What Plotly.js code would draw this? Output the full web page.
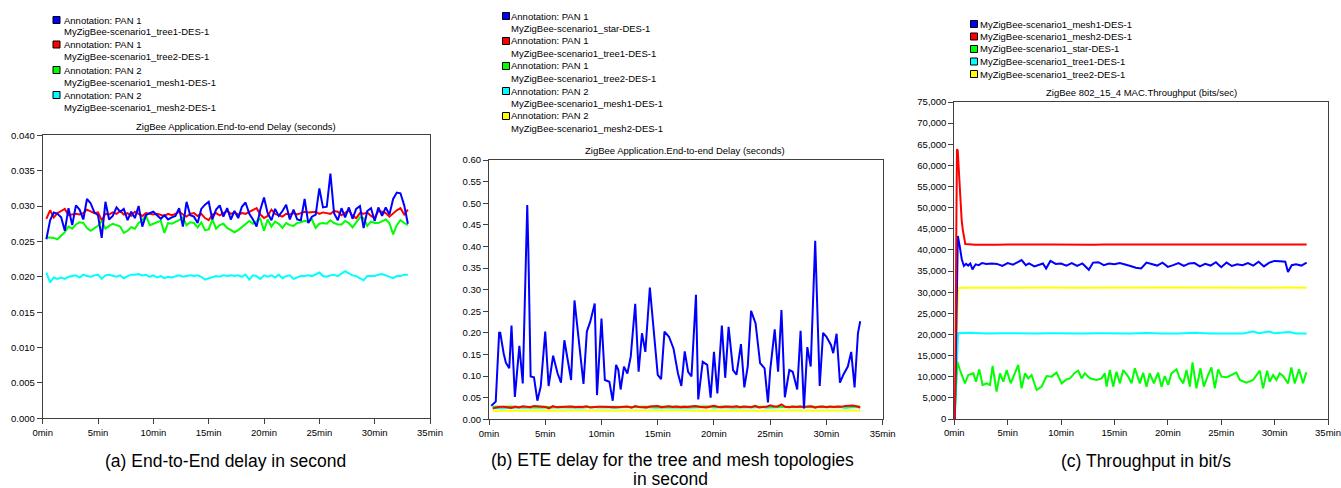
<!DOCTYPE html>
<html>
<head>
<meta charset="utf-8">
<script src="https://cdn.plot.ly/plotly-3.0.1.min.js"></script>
<style>html,body{margin:0;padding:0;background:#fff;}#chart{width:1341px;height:488px;}</style>
</head>
<body>
<div id="chart"></div>
<script>
// ---------- time axis ticks ----------
const xTickVals = [0, 5, 10, 15, 20, 25, 30, 35];
const xTickText = ['0min', '5min', '10min', '15min', '20min', '25min', '30min', '35min'];

// ---------- panels (a) and (b): delay series sampled every 20 s (minutes) ----------
const tDelay = [0.33,0.67,1,1.33,1.67,2,2.33,2.67,3,3.33,3.67,4,4.33,4.67,5,5.33,5.67,6,6.33,6.67,7,7.33,7.67,8,8.33,8.67,9,9.33,9.67,10,10.33,10.67,11,11.33,11.67,12,12.33,12.67,13,13.33,13.67,14,14.33,14.67,15,15.33,15.67,16,16.33,16.67,17,17.33,17.67,18,18.33,18.67,19,19.33,19.67,20,20.33,20.67,21,21.33,21.67,22,22.33,22.67,23,23.33,23.67,24,24.33,24.67,25,25.33,25.67,26,26.33,26.67,27,27.33,27.67,28,28.33,28.67,29,29.33,29.67,30,30.33,30.67,31,31.33,31.67,32,32.33,32.67,33];

const delayTree1 = [0.0253,0.0280,0.0291,0.0289,0.0284,0.0265,0.0297,0.0273,0.0301,0.0295,
0.0281,0.0310,0.0304,0.0291,0.0287,0.0255,0.0306,0.0281,0.0286,0.0298,
0.0292,0.0296,0.0280,0.0292,0.0283,0.0300,0.0271,0.0287,0.0290,0.0292,
0.0287,0.0282,0.0287,0.0281,0.0284,0.0286,0.0297,0.0271,0.0306,0.0287,
0.0285,0.0276,0.0296,0.0302,0.0306,0.0281,0.0295,0.0301,0.0285,0.0297,
0.0281,0.0293,0.0283,0.0299,0.0305,0.0289,0.0281,0.0271,0.0295,0.0312,
0.0290,0.0280,0.0296,0.0286,0.0293,0.0302,0.0281,0.0295,0.0281,0.0280,
0.0310,0.0276,0.0285,0.0288,0.0325,0.0298,0.0299,0.0346,0.0290,0.0280,
0.0297,0.0284,0.0298,0.0282,0.0296,0.0300,0.0269,0.0293,0.0297,0.0279,
0.0298,0.0286,0.0298,0.0288,0.0310,0.0319,0.0318,0.0301,0.0275];

const delayTree2 = [0.0282,0.0294,0.0284,0.0290,0.0293,0.0296,0.0287,0.0288,0.0289,0.0288,
0.0290,0.0295,0.0292,0.0290,0.0291,0.0280,0.0289,0.0288,0.0291,0.0289,
0.0293,0.0288,0.0290,0.0286,0.0292,0.0289,0.0286,0.0290,0.0289,0.0288,
0.0289,0.0288,0.0286,0.0289,0.0287,0.0289,0.0292,0.0288,0.0285,0.0289,
0.0290,0.0286,0.0289,0.0283,0.0280,0.0288,0.0290,0.0287,0.0290,0.0293,
0.0289,0.0291,0.0288,0.0290,0.0289,0.0292,0.0294,0.0297,0.0288,0.0283,
0.0286,0.0295,0.0289,0.0287,0.0285,0.0289,0.0288,0.0290,0.0288,0.0290,
0.0292,0.0291,0.0292,0.0292,0.0289,0.0291,0.0290,0.0289,0.0293,0.0292,
0.0287,0.0290,0.0294,0.0286,0.0283,0.0290,0.0289,0.0291,0.0286,0.0283,
0.0293,0.0292,0.0290,0.0285,0.0290,0.0294,0.0297,0.0288,0.0295];

const delayMesh1 = [0.0256,0.0256,0.0255,0.0253,0.0258,0.0263,0.0271,0.0268,0.0274,0.0277,
0.0276,0.0269,0.0265,0.0268,0.0272,0.0279,0.0268,0.0272,0.0275,0.0273,
0.0271,0.0262,0.0265,0.0270,0.0268,0.0276,0.0280,0.0287,0.0273,0.0275,
0.0277,0.0279,0.0262,0.0276,0.0275,0.0277,0.0280,0.0284,0.0273,0.0277,
0.0276,0.0270,0.0277,0.0266,0.0267,0.0281,0.0268,0.0273,0.0275,0.0269,
0.0266,0.0263,0.0266,0.0270,0.0274,0.0279,0.0275,0.0279,0.0282,0.0265,
0.0281,0.0271,0.0278,0.0275,0.0269,0.0276,0.0273,0.0272,0.0276,0.0277,
0.0279,0.0278,0.0281,0.0269,0.0275,0.0276,0.0275,0.0280,0.0276,0.0274,
0.0274,0.0279,0.0276,0.0270,0.0277,0.0284,0.0283,0.0272,0.0278,0.0276,
0.0276,0.0279,0.0281,0.0276,0.0260,0.0273,0.0280,0.0276,0.0273];

const delayMesh2 = [0.0206,0.0192,0.0199,0.0197,0.0199,0.0197,0.0200,0.0201,0.0202,0.0199,
0.0203,0.0201,0.0200,0.0202,0.0203,0.0197,0.0202,0.0203,0.0201,0.0200,
0.0202,0.0198,0.0201,0.0203,0.0203,0.0204,0.0202,0.0203,0.0200,0.0202,
0.0199,0.0201,0.0198,0.0200,0.0199,0.0201,0.0202,0.0200,0.0201,0.0202,
0.0201,0.0202,0.0200,0.0196,0.0198,0.0199,0.0201,0.0200,0.0202,0.0201,
0.0202,0.0201,0.0202,0.0200,0.0203,0.0196,0.0202,0.0201,0.0197,0.0202,
0.0200,0.0202,0.0199,0.0203,0.0198,0.0201,0.0202,0.0197,0.0199,0.0201,
0.0201,0.0202,0.0201,0.0203,0.0206,0.0201,0.0200,0.0202,0.0203,0.0201,
0.0204,0.0208,0.0205,0.0202,0.0201,0.0198,0.0195,0.0201,0.0201,0.0201,
0.0203,0.0204,0.0202,0.0200,0.0198,0.0201,0.0201,0.0203,0.0203];

// star topology delay (panel b, blue)
const tStar = [0.2,0.6,0.9,1.0,1.3,1.5,1.8,2.0,2.3,2.7,3.0,3.4,3.5,3.7,4.0,4.3,4.6,5.0,5.3,5.7,6.1,6.4,6.7,7.0,7.3,7.6,8.0,8.4,8.7,9.0,9.4,9.6,10.0,10.3,10.7,11.0,11.3,11.5,11.7,12.0,12.3,12.6,13.0,13.3,13.6,13.9,14.3,14.6,15.0,15.3,15.6,16.0,16.4,16.8,17.1,17.4,17.7,18.0,18.4,18.6,19.0,19.4,19.7,20.0,20.3,20.7,21.0,21.3,21.7,22.0,22.4,22.7,23.0,23.3,23.7,24.1,24.5,24.8,25.0,25.4,25.7,26.0,26.3,26.7,27.0,27.4,27.7,28.0,28.3,28.6,29.0,29.4,29.7,30.0,30.4,30.6,30.9,31.2,31.5,31.9,32.2,32.5,32.8,33.0];
const delayStar = [0.031,0.041,0.200,0.200,0.153,0.131,0.118,0.217,0.052,0.170,
0.083,0.496,0.390,0.099,0.097,0.043,0.076,0.203,0.077,0.147,
0.106,0.085,0.183,0.137,0.091,0.275,0.184,0.082,0.203,0.226,
0.268,0.056,0.233,0.091,0.087,0.043,0.126,0.114,0.069,0.122,
0.106,0.145,0.267,0.110,0.199,0.156,0.305,0.214,0.103,0.093,
0.203,0.191,0.164,0.106,0.077,0.157,0.110,0.099,0.288,0.046,
0.133,0.126,0.050,0.156,0.060,0.217,0.096,0.214,0.114,0.103,
0.174,0.074,0.122,0.251,0.222,0.130,0.118,0.039,0.114,0.208,
0.110,0.253,0.051,0.114,0.110,0.069,0.205,0.025,0.167,0.122,
0.413,0.077,0.200,0.191,0.172,0.153,0.198,0.085,0.103,0.122,
0.156,0.074,0.199,0.227];

// ---------- panel (c): throughput (bits/sec) ----------
const tThrMesh1 = [0.05,0.2,0.33,0.5,0.7,0.9,1.1,1.3,1.5,1.7,2.0,2.3,2.6,3.0,3.5,4.0,4.5,5.0,5.5,6.0,6.3,6.7,7.0,7.5,8.0,8.3,8.6,9.0,9.5,10.0,10.5,11.0,11.5,12.0,12.6,13.0,13.5,14.0,14.5,15.0,15.5,16.0,16.5,17.0,17.5,18.0,18.5,19.0,19.5,20.0,20.5,21.0,21.5,22.0,22.5,23.0,23.5,24.0,24.5,25.0,25.5,26.0,26.5,27.0,27.5,28.0,28.5,29.0,29.5,30.0,30.5,31.0,31.25,31.6,32.0,32.5,33.0];
const thrMesh1 = [0,30000,43300,41000,37800,36200,36700,36300,36800,35400,
36600,36400,36900,36700,36800,36700,36200,36900,36500,37200,
37600,36400,36800,36100,36500,36800,35600,37400,36700,36800,
36300,36900,36200,36800,35300,37000,37100,36400,36800,36600,
36900,36600,36200,35800,35600,37000,36700,36300,37000,36000,
36400,36900,36200,36800,36900,36100,36700,36300,37100,35900,
37000,36200,36600,36400,36900,36300,37200,36100,37000,37400,
37300,37200,34800,36400,36600,36300,37000];

const tThrMesh2 = [0.05,0.25,0.32,0.45,0.55,0.69,0.80,1.03,2,3,4,5,6,7,8,9,10,11,12,13,14,15,16,17,18,19,20,21,22,23,24,25,26,27,28,29,30,31,32,33];
const thrMesh2 = [0,63800,63500,57000,52000,47000,44700,41400,
41200,41300,41250,41300,41350,41250,41300,41300,41250,41300,
41300,41250,41300,41300,41350,41300,41250,41300,41300,41300,
41250,41300,41300,41300,41250,41300,41300,41350,41250,41300,41300,41300];

const tThrStar = [0.05,0.28,0.53,1.00,1.31,1.78,2.03,2.34,2.65,3.03,3.34,3.59,3.96,4.28,4.59,4.90,5.28,5.68,5.99,6.30,6.62,6.93,7.24,7.71,8.18,8.64,9.11,9.58,10.05,10.52,10.83,11.30,11.61,11.92,12.23,12.70,13.32,13.79,14.10,14.26,14.57,14.88,15.19,15.51,15.82,16.29,16.60,16.91,17.38,17.69,18.00,18.31,18.69,19.09,19.41,19.72,20.03,20.34,20.81,21.12,21.44,21.75,22.06,22.31,22.68,23.06,23.37,23.77,24.08,24.40,24.71,25.02,25.49,25.96,26.42,26.74,27.36,27.98,28.30,28.61,28.92,29.30,29.54,29.86,30.17,30.48,30.79,31.26,31.57,31.88,32.29,32.66,32.97];
const thrStar = [2000,13560,11590,8440,10410,10800,8830,11750,8040,8440,
8040,12540,6470,10800,8830,11590,8440,10800,12780,7250,
10800,9620,10410,6860,7650,10170,10020,10960,8440,9380,
9620,10960,11440,9620,10800,9620,9230,9620,10800,7650,
11590,7650,11200,8440,11590,10020,8440,11990,8440,10960,
7650,10800,8440,10960,7650,10170,8040,10800,11750,9620,
8440,11590,7650,13400,7250,11990,7650,10410,12220,7250,
11750,10020,9860,10410,10960,9230,8600,9230,10410,11440,
7250,11440,8830,10410,9230,10800,10170,8440,12220,8440,
11750,8440,11040];

const tThrTree1 = [0.05,0.35,1.5,3,4.5,6,7.5,9,10.5,12,13.5,15,16.5,18,19.5,21,22.5,24,25.5,27,28,28.5,29.5,30,31.4,32,33];
const thrTree1 = [0,20300,20400,20200,20300,20200,20250,20300,20200,20250,
20300,20200,20250,20350,20200,20250,20400,20200,20300,20250,
20700,20300,20700,20300,20600,20250,20200];

const tThrTree2 = [0.05,0.35,1,3,5,7,9,11,13,15,17,19,21,23,25,27,29,31,33];
const thrTree2 = [0,31000,31050,31100,31050,31100,31100,31050,31100,31100,31050,31100,31100,31050,31100,31100,31050,31100,31050];

// ---------- texts ----------
const titleA = 'ZigBee Application.End-to-end Delay (seconds)';
const titleB = 'ZigBee Application.End-to-end Delay (seconds)';
const titleC = 'ZigBee 802_15_4 MAC.Throughput (bits/sec)';
const legendA = [
  ['Annotation: PAN 1', 'MyZigBee-scenario1_tree1-DES-1'],
  ['Annotation: PAN 1', 'MyZigBee-scenario1_tree2-DES-1'],
  ['Annotation: PAN 2', 'MyZigBee-scenario1_mesh1-DES-1'],
  ['Annotation: PAN 2', 'MyZigBee-scenario1_mesh2-DES-1']
];
const legendB = [
  ['Annotation: PAN 1', 'MyZigBee-scenario1_star-DES-1'],
  ['Annotation: PAN 1', 'MyZigBee-scenario1_tree1-DES-1'],
  ['Annotation: PAN 1', 'MyZigBee-scenario1_tree2-DES-1'],
  ['Annotation: PAN 2', 'MyZigBee-scenario1_mesh1-DES-1'],
  ['Annotation: PAN 2', 'MyZigBee-scenario1_mesh2-DES-1']
];
const legendC = ['MyZigBee-scenario1_mesh1-DES-1','MyZigBee-scenario1_mesh2-DES-1','MyZigBee-scenario1_star-DES-1','MyZigBee-scenario1_tree1-DES-1','MyZigBee-scenario1_tree2-DES-1'];
const captionA = '(a) End-to-End delay in second';
const captionB1 = '(b) ETE delay for the tree and mesh topologies';
const captionB2 = 'in second';
const captionC = '(c) Throughput in bit/s';

const BLUE = '#0000ff', RED = '#ff0000', GREEN = '#00ff00', CYAN = '#00ffff', YELLOW = '#ffff00';
const colorsA = [BLUE, RED, GREEN, CYAN];
const colorsB = [BLUE, RED, GREEN, CYAN, YELLOW];
const colorsC = [BLUE, RED, GREEN, CYAN, YELLOW];

// ---------- build ----------
const W = 1341, H = 488;
const FONT = '"Liberation Sans", Arial, sans-serif';
const px = x => x / W;
const py = y => 1 - y / H;

function line(x, y, color, xa, ya, name) {
  return {type: 'scatter', mode: 'lines', x: x, y: y, xaxis: xa, yaxis: ya, name: name,
          line: {color: color, width: 2}, showlegend: false, hoverinfo: 'skip'};
}

// draw later series first so the first series is on top
const traces = [
  line(tDelay, delayMesh2, colorsA[3], 'x', 'y', legendA[3][1]),
  line(tDelay, delayMesh1, colorsA[2], 'x', 'y', legendA[2][1]),
  line(tDelay, delayTree2, colorsA[1], 'x', 'y', legendA[1][1]),
  line(tDelay, delayTree1, colorsA[0], 'x', 'y', legendA[0][1]),

  line(tDelay, delayMesh2, colorsB[4], 'x2', 'y2', legendB[4][1]),
  line(tDelay, delayMesh1, colorsB[3], 'x2', 'y2', legendB[3][1]),
  line(tDelay, delayTree2, colorsB[2], 'x2', 'y2', legendB[2][1]),
  line(tDelay, delayTree1, colorsB[1], 'x2', 'y2', legendB[1][1]),
  line(tStar, delayStar, colorsB[0], 'x2', 'y2', legendB[0][1]),

  line(tThrTree2, thrTree2, colorsC[4], 'x3', 'y3', legendC[4]),
  line(tThrTree1, thrTree1, colorsC[3], 'x3', 'y3', legendC[3]),
  line(tThrStar, thrStar, colorsC[2], 'x3', 'y3', legendC[2]),
  line(tThrMesh1, thrMesh1, colorsC[0], 'x3', 'y3', legendC[0]),
  line(tThrMesh2, thrMesh2, colorsC[1], 'x3', 'y3', legendC[1])
];

const tickFont = {family: FONT, size: 9.5, color: '#000'};
function xAxis(d, anchor) {
  return {domain: d, anchor: anchor, range: [0, 35], tickmode: 'array', tickvals: xTickVals, ticktext: xTickText,
          showline: true, linecolor: '#404040', linewidth: 1, mirror: true, ticks: 'outside', ticklen: 5,
          tickcolor: '#404040', showgrid: false, zeroline: false, tickfont: tickFont, fixedrange: true};
}
function yAxis(d, anchor, range, dtick, fmt) {
  return {domain: d, anchor: anchor, range: range, dtick: dtick, tick0: 0, tickformat: fmt,
          showline: true, linecolor: '#404040', linewidth: 1, mirror: true, ticks: 'outside', ticklen: 5,
          tickcolor: '#404040', showgrid: false, zeroline: false, tickfont: tickFont, fixedrange: true};
}

const annotations = [];
const shapes = [];
function txt(x, y, text, size, xanchor) {
  annotations.push({xref: 'paper', yref: 'paper', x: px(x), y: py(y), text: text, showarrow: false,
                    xanchor: xanchor || 'center', yanchor: 'middle', borderpad: 0,
                    font: {family: FONT, size: size, color: '#000'}});
}
function square(x, y, color) {
  shapes.push({type: 'rect', xref: 'paper', yref: 'paper', x0: px(x), x1: px(x + 7), y0: py(y + 3.5), y1: py(y - 3.5),
               fillcolor: color, line: {color: '#000', width: 1}});
}

// subplot titles
txt(236, 127, titleA, 9.5);
txt(685, 150.5, titleB, 9.5);
txt(1141, 92, titleC, 9.5);

// legends
const rowsA = [20, 32, 44.5, 57, 70, 82, 95, 107.5];
legendA.forEach((e, i) => {
  square(53, rowsA[2 * i], colorsA[i]);
  txt(62.5, rowsA[2 * i], e[0], 9.5, 'left');
  txt(62.5, rowsA[2 * i + 1], e[1], 9.5, 'left');
});
const rowsB = [16, 28.5, 41, 53.5, 66, 78.5, 91, 103.5, 116, 128.5];
legendB.forEach((e, i) => {
  square(502.5, rowsB[2 * i], colorsB[i]);
  txt(510, rowsB[2 * i], e[0], 9.5, 'left');
  txt(510, rowsB[2 * i + 1], e[1], 9.5, 'left');
});
const rowsC = [24, 36.5, 49, 61.5, 74];
legendC.forEach((e, i) => {
  square(970.5, rowsC[i], colorsC[i]);
  txt(979, rowsC[i], e, 9.5, 'left');
});

// captions
txt(225, 461, captionA, 17.5);
txt(672, 460, captionB1, 17.5);
txt(670, 478.5, captionB2, 17.5);
txt(1146, 461, captionC, 17.5);

const layout = {
  width: W, height: H, margin: {l: 0, r: 0, t: 0, b: 0},
  paper_bgcolor: '#fff', plot_bgcolor: '#fff', showlegend: false,
  font: {family: FONT, size: 9.5, color: '#000'},
  xaxis: xAxis([px(42.7), px(430)], 'y'),
  yaxis: yAxis([py(418.3), py(135.3)], 'x', [0, 0.04], 0.005, '.3f'),
  xaxis2: xAxis([px(489), px(882.7)], 'y2'),
  yaxis2: yAxis([py(419.3), py(160)], 'x2', [0, 0.6], 0.05, '.2f'),
  xaxis3: xAxis([px(954.3), px(1328)], 'y3'),
  yaxis3: yAxis([py(419), py(102)], 'x3', [0, 75000], 5000, ',d'),
  annotations: annotations,
  shapes: shapes
};

Plotly.newPlot('chart', traces, layout, {displayModeBar: false, staticPlot: true});
</script>
</body>
</html>
